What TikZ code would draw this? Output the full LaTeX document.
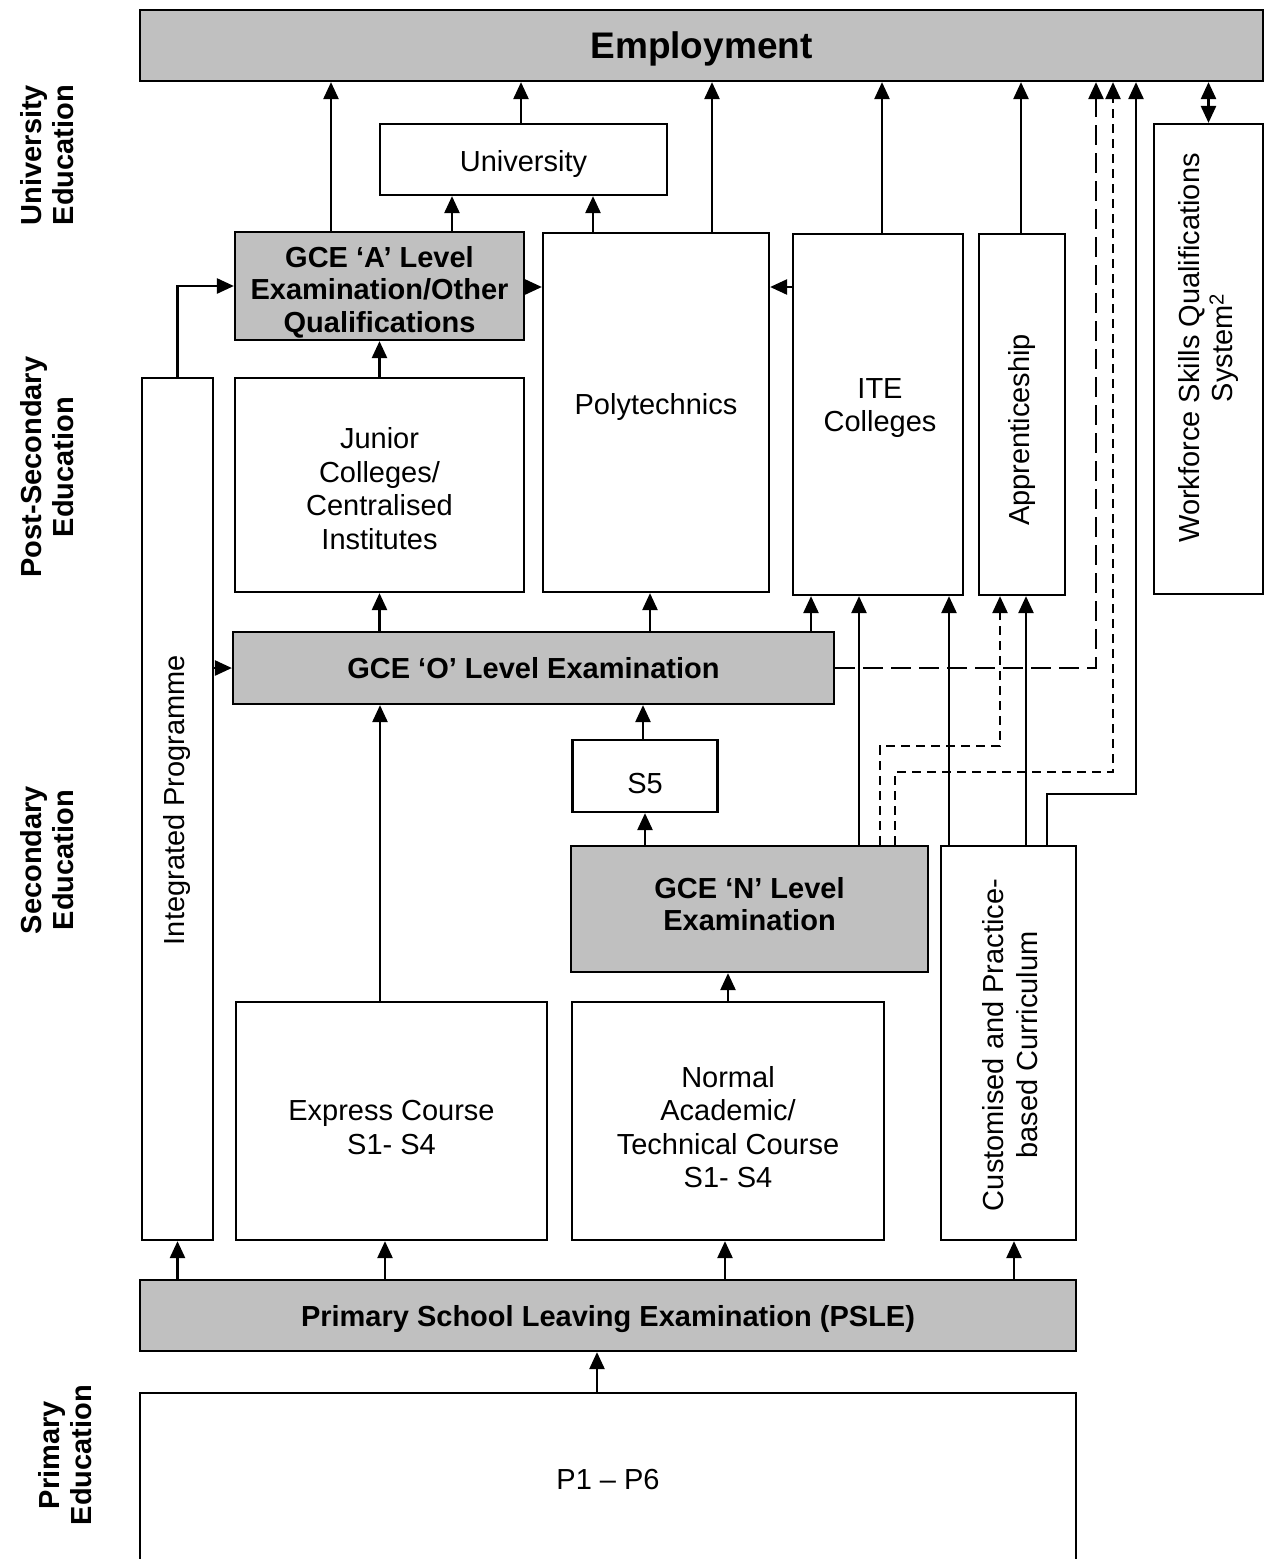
\documentclass[tikz,border=0pt]{standalone}
\usepackage{fontspec}
\setmainfont{Liberation Sans}
\usetikzlibrary{arrows.meta}
\definecolor{boxgray}{RGB}{192,192,192}
\newcommand\fnorm{\fontsize{29}{33.5}\selectfont}
\newcommand\fbold{\fontsize{29}{32.5}\selectfont\bfseries}
\newcommand\fbig{\fontsize{37}{40}\selectfont\bfseries}
\newcommand\dn[1]{\rule{0pt}{#1pt}}
\newcommand\up[1]{\rule[-#1pt]{0pt}{0pt}}
\begin{document}
\begin{tikzpicture}[x=1pt,y=-1pt,
  box/.style={draw, line width=2.2pt, align=center, inner sep=0pt, font=\fnorm},
  gbox/.style={box, fill=boxgray, font=\fbold},
  arr/.style={line width=2.5pt, -{Triangle[length=17pt,width=15pt]}},
  darr/.style={line width=2.5pt, {Triangle[length=17pt,width=15pt]}-{Triangle[length=17pt,width=15pt]}},
  ldash/.style={dash pattern=on 20pt off 8pt},
  sdash/.style={dash pattern=on 9pt off 6pt},
  rtext/.style={rotate=90, align=center, font=\fnorm},
  side/.style={rotate=90, align=center, font=\fbold}]
\useasboundingbox (0,0) rectangle (1272,1559);
\clip (0,0) rectangle (1272,1559);

% boxes
\node[gbox, font=\fbig, minimum width=1123, minimum height=71] (emp) at (701.5,45.5) {\dn{33}Employment};
\node[box, minimum width=287, minimum height=71] (univ) at (523.5,159.5) {\dn{31}University};
\node[gbox, minimum width=289, minimum height=108] (gcea) at (379.5,286) {\dn{33}GCE `A' Level\\Examination/Other\\Qualifications};
\node[box, minimum width=226, minimum height=359] (poly) at (656,412.5) {};
\node[font=\fnorm] (polyt) at (656,407) {Polytechnics};
\node[box, minimum width=170, minimum height=361] (ite) at (878,414.5) {};
\node[font=\fnorm, align=center] (itet) at (880,408) {ITE\\Colleges};
\node[box, minimum width=86, minimum height=361] (app) at (1022,414.5) {};
\node[rtext] (appt) at (1022,430) {Apprenticeship};
\node[box, minimum width=109, minimum height=470] (wsq) at (1208.5,359) {};
\node[rtext] (wsqt) at (1208.5,348) {Workforce Skills Qualifications\\System\textsuperscript{2}};
\node[box, minimum width=71, minimum height=862] (ip) at (177.5,809) {};
\node[rtext] (ipt) at (177.5,800) {Integrated Programme};
\node[box, minimum width=289, minimum height=214] (jc) at (379.5,485) {\dn{28}Junior\\Colleges/\\Centralised\\Institutes};
\node[gbox, minimum width=601, minimum height=72] (gceo) at (533.5,668) {GCE `O' Level Examination};
\node[box, minimum width=145, minimum height=72] (s5) at (645,776) {\dn{35}S5};
\node[gbox, minimum width=357, minimum height=126] (gcen) at (749.5,909) {GCE `N' Level\\Examination\up{10}};
\node[box, minimum width=135, minimum height=394] (cust) at (1008.5,1043) {};
\node[rtext] (custt) at (1010,1045) {Customised and Practice-\\based Curriculum};
\node[box, minimum width=311, minimum height=238] (expr) at (391.5,1121) {\dn{33}Express Course\\S1- S4};
\node[box, minimum width=312, minimum height=238] (norm) at (728,1121) {\dn{33}Normal\\Academic/\\Technical Course\\S1- S4};
\node[gbox, minimum width=936, minimum height=71] (psle) at (608,1315.5) {\dn{29}Primary School Leaving Examination (PSLE)};
\node[box, minimum width=936, minimum height=172] (p16) at (608,1479) {P1 -- P6};

% side labels
\node[side] (l1) at (47,155) {University\\Education};
\node[side] (l2) at (47,467) {Post-Secondary\\Education};
\node[side] (l3) at (47,860) {Secondary\\Education};
\node[side] (l4) at (65,1455) {Primary\\Education};

% arrows to Employment
\draw[arr] (331,0 |- gcea.north) -- (331,0 |- emp.south);
\draw[arr] (521,0 |- univ.north) -- (521,0 |- emp.south);
\draw[arr] (712,0 |- poly.north) -- (712,0 |- emp.south);
\draw[arr] (882,0 |- ite.north) -- (882,0 |- emp.south);
\draw[arr] (1021,0 |- app.north) -- (1021,0 |- emp.south);
\draw[darr] (wsq.north) -- (wsq.north |- emp.south);

% to University
\draw[arr] (452,0 |- gcea.north) -- (452,0 |- univ.south);
\draw[arr] (593,0 |- poly.north) -- (593,0 |- univ.south);

% into Polytechnics
\draw[arr] (gcea.east |- 0,287) -- (poly.west |- 0,287);
\draw[arr] (ite.west |- 0,287) -- (poly.east |- 0,287);

% into GCE A
\draw[arr] (ip.north) |- (gcea.west);
\draw[arr] (jc.north) -- (gcea.south);

% from GCE O
\draw[arr] (gceo.north -| jc) -- (jc.south);
\draw[arr] (650,0 |- gceo.north) -- (650,0 |- poly.south);
\draw[arr] (811,0 |- gceo.north) -- (811,0 |- ite.south);
\draw[arr, ldash] (gceo.east) -| (1096,0 |- emp.south);

% into GCE O
\draw[arr] (ip.east |- gceo) -- (gceo.west);
\draw[arr] (380,0 |- expr.north) -- (380,0 |- gceo.south);
\draw[arr] (643,0 |- s5.north) -- (643,0 |- gceo.south);

% GCE N
\draw[arr] (s5 |- gcen.north) -- (s5.south);
\draw[arr] (norm.north) -- (norm.north |- gcen.south);
\draw[arr] (859,0 |- gcen.north) -- (859,0 |- ite.south);
\draw[arr, sdash] (880,0 |- gcen.north) |- (1000,746) -- (1000,0 |- app.south);
\draw[arr, sdash] (895,0 |- gcen.north) |- (1113,772) -- (1113,0 |- emp.south);

% Customised
\draw[arr] (949,0 |- cust.north) -- (949,0 |- ite.south);
\draw[arr] (1026,0 |- cust.north) -- (1026,0 |- app.south);
\draw[arr] (1047,0 |- cust.north) |- (1136,794) -- (1136,0 |- emp.south);

% from PSLE
\draw[arr] (ip |- psle.north) -- (ip.south);
\draw[arr] (385,0 |- psle.north) -- (385,0 |- expr.south);
\draw[arr] (725,0 |- psle.north) -- (725,0 |- norm.south);
\draw[arr] (1014,0 |- psle.north) -- (1014,0 |- cust.south);
\draw[arr] (597,0 |- p16.north) -- (597,0 |- psle.south);
\end{tikzpicture}
\end{document}
